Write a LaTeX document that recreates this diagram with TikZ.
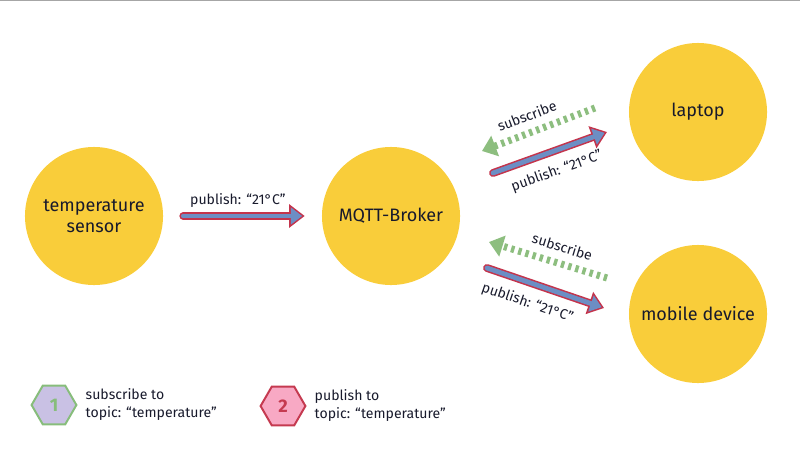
\documentclass[tikz,border=0pt]{standalone}
\usepackage{fontspec}
\setmainfont{Fira Sans}
\usetikzlibrary{arrows.meta, positioning, shapes.geometric, calc}
\definecolor{cYellow}{RGB}{249, 205, 58}
\definecolor{cText}{RGB}{24, 26, 44}
\definecolor{cPubFill}{RGB}{108, 142, 196}
\definecolor{cPubEdge}{RGB}{196, 52, 76}
\definecolor{cSubGreen}{RGB}{141, 190, 127}
\definecolor{cHexGreen}{RGB}{135, 189, 123}
\definecolor{cLavender}{RGB}{201, 193, 228}
\definecolor{cHexRed}{RGB}{197, 58, 80}
\definecolor{cPink}{RGB}{248, 169, 196}
\definecolor{cRule}{RGB}{166, 166, 166}
\tikzset{
    hostCircle/.style={
        circle, fill=cYellow, minimum size=3.45cm, inner sep=0pt,
        align=center, text=cText,
        font=\fontsize{12.8}{15}\selectfont
    },
    pubArrow/.style={
        draw=cPubEdge, line width=5.6pt, line cap=round,
        -{Triangle[length=11pt, width=16pt]},
        postaction={
            draw=cPubFill, line width=3.4pt,
            -{Triangle[length=8pt, width=11.6pt]}, shorten >=1.8pt
        }
    },
    subArrow/.style={
        draw=cSubGreen, line width=5pt,
        dash pattern=on 2.4pt off 2.9pt,
        -{Triangle[length=10pt, width=15pt]}
    },
    arrowLabel/.style={
        sloped, inner sep=1.5pt, text=cText,
        font=\fontsize{10}{12}\selectfont
    },
    topicHex/.style={
        regular polygon, regular polygon sides=6,
        minimum size=1.12cm, inner sep=0pt, line width=1.4pt,
        font=\bfseries\fontsize{13}{13}\selectfont
    },
    legendText/.style={
        align=left, text=cText,
        font=\fontsize{10}{12.8}\selectfont
    }
}

\begin{document}
\begin{tikzpicture}[x=0.025cm, y=-0.025cm]

	\useasboundingbox (0,0) rectangle (800,460);
	\draw [cRule, line width=1pt] (0,0.6) -- (800,0.6);

	% =========================================================
	% Clients and Broker
	% =========================================================

	\node [hostCircle] (sensor) at (94,216) {temperature\\sensor};
	\node [hostCircle] (broker) at (391,216) {MQTT-Broker};
	\node [hostCircle] (laptop) at (698,112) {laptop};
	\node [hostCircle] (mobile) at (698,314) {mobile device};

	% =========================================================
	% Messages
	% =========================================================

	\draw [pubArrow] ($(sensor.east)+(20,0)$)
		-- node [arrowLabel, above=2pt, pos=0.45] {publish: “21°C”}
		($(broker.west)+(-17,0)$);

	\coordinate (subLapTail) at (595,108);
	\coordinate (subLapTip)  at (482,151);
	\coordinate (pubLapTail) at (493,173);
	\coordinate (pubLapTip)  at (607,132);

	\coordinate (subMobTail) at (607,278);
	\coordinate (subMobTip)  at (489,242);
	\coordinate (pubMobTail) at (487,268);
	\coordinate (pubMobTip)  at (604,308);

	\draw [subArrow] (subLapTail)
		-- node [arrowLabel, above=4pt, pos=0.55] {subscribe} (subLapTip);
	\draw [pubArrow] (pubLapTail)
		-- node [arrowLabel, below=5pt, pos=0.5] {publish: “21°C”} (pubLapTip);

	\draw [subArrow] (subMobTail)
		-- node [arrowLabel, above=4pt, pos=0.42] {subscribe} (subMobTip);
	\draw [pubArrow] (pubMobTail)
		-- node [arrowLabel, below=5pt, pos=0.4] {publish: “21°C”} (pubMobTip);

	% =========================================================
	% Legend
	% =========================================================

	\node [topicHex, draw=cHexGreen, fill=cLavender, text=cHexGreen] (hexSub) at (54,405) {1};
	\node [legendText, right=0.08cm of hexSub] (txtSub) {subscribe to\\topic: “temperature”};

	\node [topicHex, draw=cHexRed, fill=cPink, text=cHexRed] (hexPub) at (283,406) {2};
	\node [legendText, right=0.08cm of hexPub] (txtPub) {publish to\\topic: “temperature”};

\end{tikzpicture}
\end{document}
